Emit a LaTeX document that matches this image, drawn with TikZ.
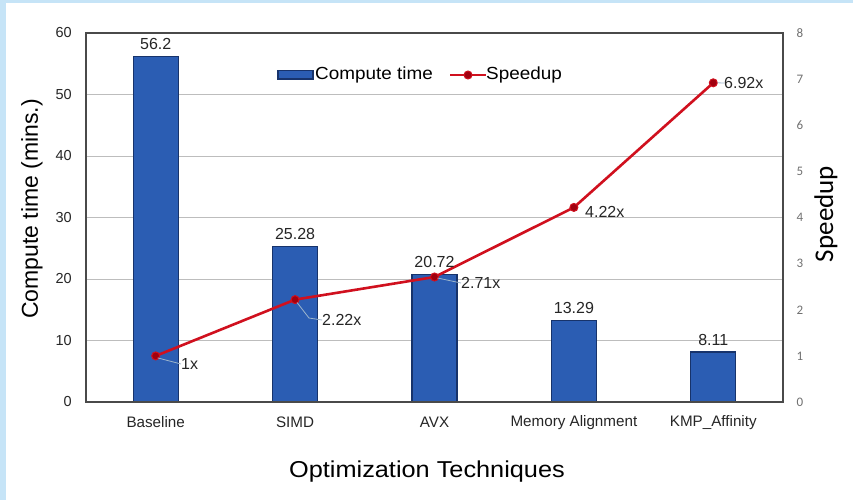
\documentclass[tikz,border=0pt]{standalone}
\usepackage{fontspec}
\setmainfont{Liberation Sans}
\newfontfamily\calfont{Carlito}
\definecolor{barblue}{HTML}{2B5DB3}
\definecolor{baredge}{HTML}{17336B}
\definecolor{spred}{HTML}{D0101E}
\definecolor{dotred}{HTML}{A0000F}
\definecolor{gridgray}{HTML}{BDBDBD}
\definecolor{framegray}{HTML}{4A4A4A}
\definecolor{leadcol}{HTML}{9DB5CC}
\definecolor{bgblue}{HTML}{C6E4F7}
\definecolor{txt}{HTML}{262626}
\definecolor{rtick}{HTML}{707070}
\newcommand{\hx}[2]{\scalebox{#1}[1]{#2}}
\tikzset{
  gridln/.style={draw=gridgray, line width=1pt},
  framebox/.style={draw=framegray, line width=1.2pt},
  barrect/.style={fill=barblue, draw=baredge, line width=1.3pt},
  spline/.style={draw=spred, line width=2.6pt, line join=round},
  spdot/.style={circle, fill=dotred, draw=spred, line width=1pt, minimum size=8pt, inner sep=0pt},
  leadln/.style={draw=leadcol, line width=0.8pt},
  lefttick/.style={anchor=east, inner sep=0pt, text=txt, font=\fontsize{14.5}{14.5}\selectfont},
  righttick/.style={inner sep=0pt, text=rtick, font=\calfont\fontsize{13}{13}\selectfont},
  catlbl/.style={inner sep=0pt, text=txt, font=\fontsize{15.2}{15.2}\selectfont},
  barval/.style={inner sep=0pt, text=txt, font=\fontsize{16}{16}\selectfont},
  spval/.style={anchor=west, inner sep=0pt, text=txt, font=\fontsize{16}{16}\selectfont},
  legtxt/.style={anchor=west, inner sep=0pt, text=black, font=\fontsize{17.5}{17.5}\selectfont},
  axtitle/.style={inner sep=0pt, text=black, font=\fontsize{23}{23}\selectfont},
}
\begin{document}
\begin{tikzpicture}[x=1pt,y=-1pt]
\useasboundingbox (0,0) rectangle (853,500);
% background
\fill[bgblue] (0,0) rectangle (853,500);
\fill[white] (6,3) rectangle (853,500);
% gridlines
\foreach \yy in {340.5,279,217.5,156,94.5}
  \draw[gridln] (86,\yy) -- (783,\yy);
% bars
\draw[barrect] (133.2,402) rectangle (178.2,56.4);
\draw[barrect] (272.6,402) rectangle (317.6,246.5);
\draw[barrect] (412.0,402) rectangle (457.0,274.6);
\draw[barrect] (551.4,402) rectangle (596.4,320.3);
\draw[barrect] (690.8,402) rectangle (735.8,352.1);
% frame
\draw[framebox] (86,33) rectangle (783,402);
% speedup points
\coordinate (s1) at (155.7,355.9);
\coordinate (s2) at (295.1,299.6);
\coordinate (s3) at (434.5,277.0);
\coordinate (s4) at (573.9,207.4);
\coordinate (s5) at (713.3,82.8);
\draw[spline] (s1) -- (s2) -- (s3) -- (s4) -- (s5);
\foreach \p in {s1,s2,s3,s4,s5}
  \node[spdot] (d\p) at (\p) {};
% left ticks
\node[lefttick] (t0) at (72,402) {0};
\node[lefttick] (t10) at (72,340.5) {10};
\node[lefttick] (t20) at (72,279) {20};
\node[lefttick] (t30) at (72,217.5) {30};
\node[lefttick] (t40) at (72,156) {40};
\node[lefttick] (t50) at (72,94.5) {50};
\node[lefttick] (t60) at (72,33) {60};
% right ticks
\foreach \v/\yy in {0/402,1/355.9,2/309.8,3/263.6,4/217.5,5/171.4,6/125.2,7/79.1,8/33}
  \node[righttick] (r\v) at (800,\yy) {\v};
% categories
\node[catlbl] (c1) at (155.7,422.5) {Baseline};
\node[catlbl] (c2) at (295.1,422.5) {SIMD};
\node[catlbl] (c3) at (434.5,422.5) {AVX};
\node[catlbl] (c4) at (573.9,422.5) {Memory Alignment};
\node[catlbl] (c5) at (713.3,422.5) {KMP\_Affinity};
% bar values
\node[barval] (b1) at (155.7,44) {56.2};
\node[barval] (b2) at (295.1,234) {25.28};
\node[barval] (b3) at (434.5,262) {20.72};
\node[barval] (b4) at (573.9,308) {13.29};
\node[barval] (b5) at (713.3,340) {8.11};
% speedup values
\node[spval] (v1) at (181,364) {1x};
\node[spval] (v2) at (322,320) {2.22x};
\node[spval] (v3) at (461,283) {2.71x};
\node[spval] (v4) at (585,212) {4.22x};
\node[spval] (v5) at (724,83) {6.92x};
\draw[leadln] (s1) ++(2,2) -- (v1.west);
\draw[leadln] (s2) ++(2,3) -- (309,318) -- (v2.west);
\draw[leadln] (s3) ++(3,1) -- (v3.west);
\draw[leadln] (s5) ++(4,0) -- (v5.west);
% legend
\draw[barrect] (278,70.5) rectangle (313,79);
\node[legtxt] (lg1) at (315,75) {\hx{1.08}{Compute time}};
\coordinate (la) at (450,75);
\coordinate (lb) at (486,75);
\draw[spline] (la) -- (lb);
\node[spdot] (ld) at (468,75) {};
\node[legtxt] (lg2) at (486,75) {\hx{1.08}{Speedup}};
% axis titles
\node[axtitle, rotate=90] (ylab) at (32,209) {Compute time (mins.)};
\node[axtitle] (xlab) at (427,472) {\hx{1.1}{Optimization Techniques}};
\node[inner sep=0pt, rotate=90, font=\calfont\fontsize{27}{27}\selectfont] (y2lab) at (826,214) {Speedup};
\end{tikzpicture}
\end{document}
